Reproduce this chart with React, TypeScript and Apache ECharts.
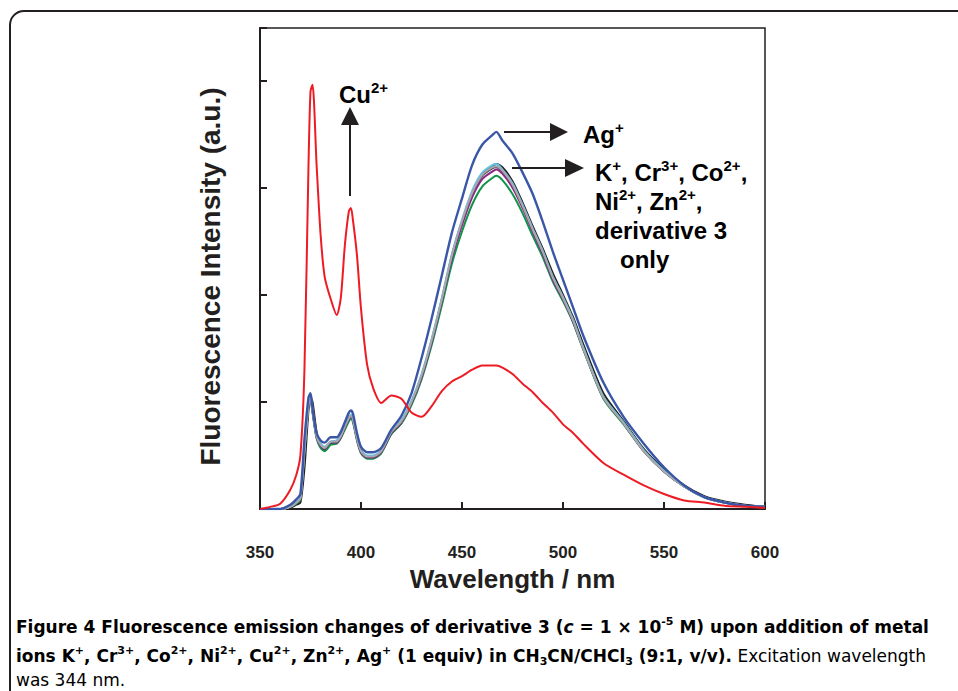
import React, { useEffect, useRef } from "react";
import * as echarts from "echarts";

const wavelength = [350,355,360,365,368,370,372,374,375,376,378,380,382,385,388,390,392,394,395,396,398,400,403,406,410,415,420,425,430,435,440,445,450,455,460,465,467,470,475,480,485,490,495,500,505,510,520,530,540,550,560,570,580,590,600];

const cuValues = [0,2,5,18,32,50,130,320,390,396,322,256,217,196,181,197,246,278,281,270,237,187,135,113,99,106,103,90,86,96,110,119,124,130,134,134,134,132,126,117,109,99,90,79,71,61,43,32,22,14,8,6,3,2,1];
const agValues = [0,0,0,4,9,14,65,104,108,94,71,64,62,67,67,72,81,90,92,89,71,58,53,53,57,74,87,108,141,178,218,258,290,321,340,349,352,344,332,314,294,268,240,214,188,162,118,86,61,39,22,11,6,3,2];
const onlyValues = [0,0,0,1,4,6,38,92,104,100,72,58,55,61,62,67,76,84,87,85,68,55,48,48,53,70,80,99,124,157,195,236,268,294,312,320,322,319,306,286,264,243,220,200,179,154,108,82,56,37,22,12,7,4,2];
const kValues = [0,0,0,2,5,9,52,96,102,90,66,57,54,60,61,66,74,82,84,81,64,52,47,47,52,70,80,97,121,153,190,229,259,284,301,309,311,307,294,276,255,235,212,194,174,149,103,79,54,35,21,11,6,3,2];
const crValues = [0,0,0,2,6,10,54,97,103,91,67,59,56,62,62,67,76,84,86,83,65,53,48,48,53,71,81,99,123,156,194,234,265,291,308,315,317,313,300,281,259,238,214,196,175,150,104,80,54,35,21,11,6,3,2];
const coValues = [0,0,0,2,6,11,56,99,105,93,69,61,58,63,64,69,78,86,88,85,67,55,50,50,55,73,83,101,126,159,197,238,270,297,314,321,322,317,304,284,262,241,217,198,177,151,105,81,55,36,21,11,6,3,2];
const niValues = [0,0,0,2,6,10,55,98,104,92,68,60,57,63,63,68,77,85,87,84,66,54,49,49,54,72,82,100,125,158,196,237,269,295,312,319,320,316,303,283,261,240,216,197,176,150,104,80,54,35,21,11,6,3,2];
const znValues = [0,0,0,2,6,10,54,97,103,92,68,60,57,62,63,68,77,85,87,84,66,54,49,49,54,72,82,100,124,157,195,236,268,294,311,318,319,315,302,282,260,239,215,196,175,150,104,80,54,35,21,11,6,3,2];

const xTicks = [350, 400, 450, 500, 550, 600];

const seriesDefs = [
  { name: "Zn2+", values: znValues, color: "#58595b", width: 2 },
  { name: "derivative 3 only", values: onlyValues, color: "#231f20", width: 2 },
  { name: "K+", values: kValues, color: "#0f9448", width: 2 },
  { name: "Cr3+", values: crValues, color: "#8a2a87", width: 2 },
  { name: "Co2+", values: coValues, color: "#5cc3e8", width: 2 },
  { name: "Ni2+", values: niValues, color: "#a7a9ac", width: 2 },
  { name: "Ag+", values: agValues, color: "#3a57a7", width: 2.4 },
  { name: "Cu2+", values: cuValues, color: "#ed1c24", width: 2 },
];

const INK = "#231f20";
const PLOT_FONT = "'Liberation Sans', Arial, sans-serif";
const CAP_FONT = "'DejaVu Sans', sans-serif";

export default function App() {
  const ref = useRef<HTMLDivElement>(null);
  useEffect(() => {
    if (!ref.current) return;
    const chart = echarts.init(ref.current, null, { renderer: "svg" });

    const annRich = {
      a: { fontFamily: PLOT_FONT, fontWeight: "bold", fontSize: 24, lineHeight: 28, color: INK },
      s: { fontFamily: PLOT_FONT, fontWeight: "bold", fontSize: 15, lineHeight: 27, color: INK, verticalAlign: "top" },
    };
    const capRich = {
      b: { fontFamily: CAP_FONT, fontWeight: "bold", fontSize: 17, lineHeight: 22, color: INK },
      bi: { fontFamily: CAP_FONT, fontWeight: "bold", fontStyle: "italic", fontSize: 17, lineHeight: 22, color: INK },
      sp: { fontFamily: CAP_FONT, fontWeight: "bold", fontSize: 11, lineHeight: 14, color: INK, verticalAlign: "top" },
      sb: { fontFamily: CAP_FONT, fontWeight: "bold", fontSize: 11, lineHeight: 12, color: INK, verticalAlign: "bottom" },
      n: { fontFamily: CAP_FONT, fontWeight: "normal", fontSize: 17, lineHeight: 22, color: INK },
    };

    const annText = (x: number, y: number, text: string) => ({
      type: "text",
      x,
      y,
      style: { text, rich: annRich, verticalAlign: "top", align: "left" },
      z: 100,
    });
    const capText = (x: number, y: number, text: string) => ({
      type: "text",
      x,
      y,
      style: { text, rich: capRich, verticalAlign: "middle", align: "left" },
      z: 100,
    });

    chart.setOption({
      animation: false,
      backgroundColor: "#ffffff",
      grid: {
        left: 260,
        right: 193,
        top: 28,
        bottom: 182,
        show: true,
        borderColor: INK,
        borderWidth: 1.5,
        backgroundColor: "transparent",
      },
      xAxis: {
        type: "value",
        min: 350,
        max: 600,
        interval: 50,
        name: "Wavelength / nm",
        nameLocation: "middle",
        nameGap: 56,
        nameTextStyle: { fontFamily: PLOT_FONT, fontWeight: "bold", fontSize: 26, color: INK },
        axisLine: { show: true, lineStyle: { color: INK, width: 2 } },
        axisTick: { show: true, inside: true, length: 7, lineStyle: { color: INK, width: 2 } },
        axisLabel: {
          fontFamily: PLOT_FONT,
          fontWeight: "bold",
          fontSize: 17,
          color: INK,
          margin: 35,
          customValues: xTicks,
        },
        splitLine: { show: false },
      },
      yAxis: {
        type: "value",
        min: 0,
        max: 449,
        interval: 100,
        name: "Fluorescence Intensity (a.u.)",
        nameLocation: "middle",
        nameRotate: 90,
        nameGap: 36,
        nameTextStyle: {
          fontFamily: PLOT_FONT,
          fontWeight: "bold",
          fontSize: 28,
          color: INK,
          padding: [0, 16, 0, 0],
        },
        axisLine: { show: true, lineStyle: { color: INK, width: 2 } },
        axisTick: { show: true, inside: true, length: 7, lineStyle: { color: INK, width: 2 } },
        axisLabel: { show: false },
        splitLine: { show: false },
      },
      series: seriesDefs.map((s) => ({
        name: s.name,
        type: "line",
        data: wavelength.map((w, i) => [w, s.values[i]]),
        showSymbol: false,
        symbol: "none",
        smooth: 0.25,
        lineStyle: { color: s.color, width: s.width },
        itemStyle: { color: s.color },
        clip: true,
      })),
      graphic: [
        {
          type: "rect",
          shape: { x: 10, y: 11, width: 1000, height: 1000, r: 14 },
          style: { fill: "none", stroke: INK, lineWidth: 2 },
          silent: true,
          z: 50,
        },
        // Cu2+ arrow
        { type: "line", shape: { x1: 350, y1: 196, x2: 350, y2: 122 }, style: { stroke: INK, lineWidth: 2 }, z: 100 },
        { type: "polygon", shape: { points: [[341, 125], [359, 125], [350, 107]] }, style: { fill: INK }, z: 100 },
        annText(339, 80, "{a|Cu}{s|2+}"),
        // Ag+ arrow
        { type: "line", shape: { x1: 504, y1: 132, x2: 552, y2: 132 }, style: { stroke: INK, lineWidth: 2 }, z: 100 },
        { type: "polygon", shape: { points: [[550, 123], [550, 141], [568, 132]] }, style: { fill: INK }, z: 100 },
        annText(583, 120, "{a|Ag}{s|+}"),
        // others arrow
        { type: "line", shape: { x1: 512, y1: 168, x2: 567, y2: 168 }, style: { stroke: INK, lineWidth: 2 }, z: 100 },
        { type: "polygon", shape: { points: [[565, 159], [565, 177], [584, 168]] }, style: { fill: INK }, z: 100 },
        annText(595, 158, "{a|K}{s|+}{a|, Cr}{s|3+}{a|, Co}{s|2+}{a|,}"),
        annText(595, 187, "{a|Ni}{s|2+}{a|, Zn}{s|2+}{a|,}"),
        annText(595, 216, "{a|derivative 3}"),
        annText(620, 245, "{a|only}"),
        // caption
        capText(
          16,
          627,
          "{b|Figure 4 Fluorescence emission changes of derivative 3 (}{bi|c}{b| = 1 × 10}{sp|-5}{b| M) upon addition of metal}"
        ),
        capText(
          16,
          656,
          "{b|ions K}{sp|+}{b|, Cr}{sp|3+}{b|, Co}{sp|2+}{b|, Ni}{sp|2+}{b|, Cu}{sp|2+}{b|, Zn}{sp|2+}{b|, Ag}{sp|+}{b| (1 equiv) in CH}{sb|3}{b|CN/CHCl}{sb|3}{b| (9:1, v/v).}{n| Excitation wavelength}"
        ),
        capText(16, 680, "{n|was 344 nm.}"),
      ],
    });
    return () => chart.dispose();
  }, []);
  return (
    <div
      ref={ref}
      style={{ position: "absolute", left: 0, top: 0, width: 958, height: 691, background: "#fff" }}
    />
  );
}
